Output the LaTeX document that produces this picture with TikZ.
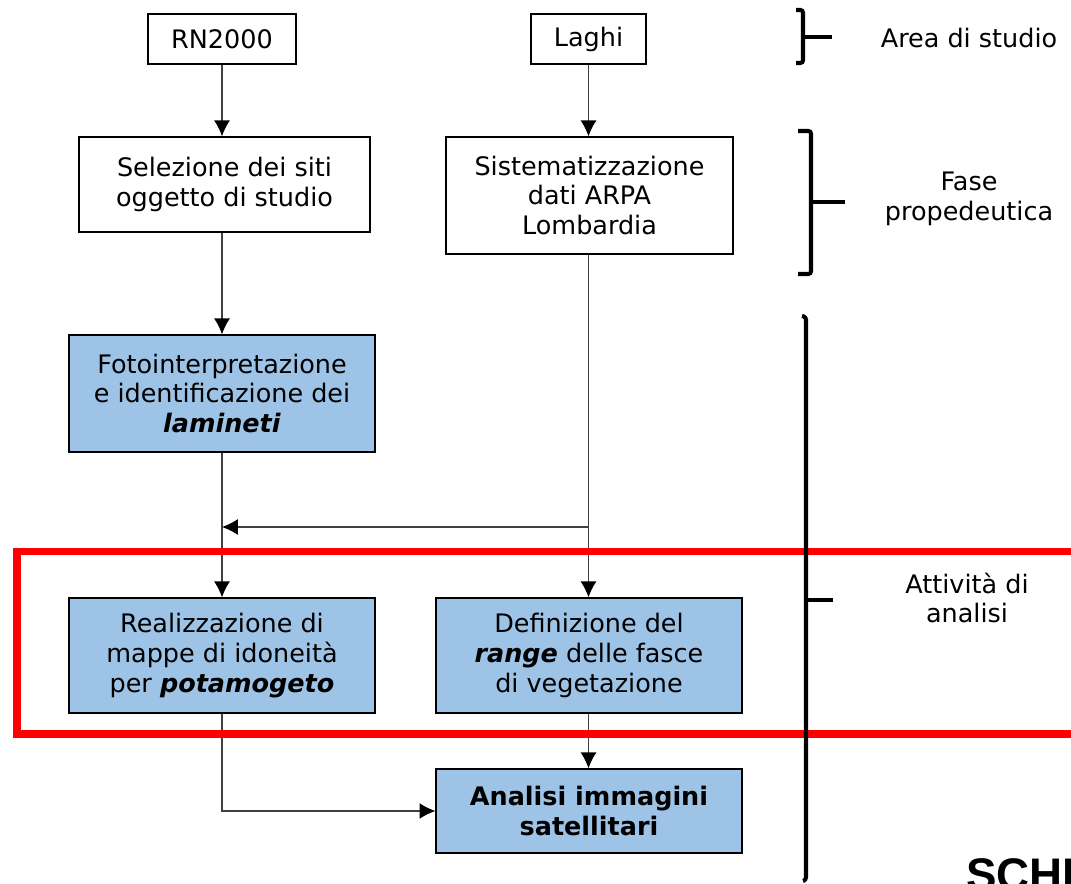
\documentclass[tikz,border=0pt]{standalone}
\usepackage{fontspec}
\setmainfont{DejaVu Sans}
\newfontfamily\headfont{Liberation Sans}
\usepackage{tikz}
\usetikzlibrary{arrows.meta}

\definecolor{boxblue}{RGB}{157,195,230}
\definecolor{linegray}{RGB}{64,64,64}

\begin{document}
\begin{tikzpicture}[x=0.02cm,y=-0.02cm]
			\useasboundingbox (0,0) rectangle (1071,884);
			
			\begin{scope}[every node/.style={draw,line width=0.8pt,align=center,inner sep=0pt,font=\fontsize{14.5}{17}\selectfont}]
				\node [minimum width=2.96cm,minimum height=1cm] (rn) at (222,39) {RN2000};
				\node [minimum width=2.3cm,minimum height=1cm] (laghi) at (588.5,39) {Laghi};
				\node [minimum width=5.82cm,minimum height=1.9cm] (sel) at (224.5,184.5) {Selezione dei siti\\oggetto di studio};
				\node [minimum width=5.74cm,minimum height=2.34cm] (sist) at (589.5,195.5) {Sistematizzazione\\dati ARPA\\Lombardia};
				\node [fill=boxblue,minimum width=6.12cm,minimum height=2.34cm] (foto) at (222,393.5) {Fotointerpretazione\\e identificazione dei\\\textbf{\textit{lamineti}}};
				\node [fill=boxblue,minimum width=6.12cm,minimum height=2.3cm] (real) at (222,655.5) {Realizzazione di\\mappe di idoneità\\per \textbf{\textit{potamogeto}}};
				\node [fill=boxblue,minimum width=6.12cm,minimum height=2.3cm] (def) at (589,655.5) {Definizione del\\\textbf{\textit{range}} delle fasce\\di vegetazione};
				\node [fill=boxblue,minimum width=6.12cm,minimum height=1.68cm,font=\fontsize{14.5}{17}\selectfont\bfseries] (sat) at (589,811) {Analisi immagini\\satellitari};
			\end{scope}
			
			\coordinate (j1) at (588.5,527);
			\coordinate (j2) at (222,527);
			
			\begin{scope}[every edge/.style={draw=linegray,line width=0.6pt},>={Latex[length=9pt,width=9pt,color=black]}]
				\path [->] (rn) edge (sel.north -| rn);
				\path [->] (laghi) edge (sist.north -| laghi);
				\path [->] (sel.south -| rn) edge (foto);
				\path [->] (foto) edge (real);
				\path [->] (sist.south -| j1) edge (def.north -| j1);
				\path [->] (j1) edge (j2);
				\path [->] (def.south -| j1) edge (sat.north -| j1);
				\path [->] (real) edge [to path={|- (\tikztotarget)}] (sat);
			\end{scope}
			
			% riquadro rosso
			\draw [red,line width=4pt] (17,551.5) rectangle (1110,734);
			
			% parentesi
			\begin{scope}[line width=2.3pt,rounded corners=1.5pt]
				\draw (796,10) -- (803,10) -- (803,63) -- (796,63);
				\draw (803,37) -- (832,37);
				\draw (798,131) -- (811,131) -- (811,274) -- (798,274);
				\draw (811,202) -- (845,202);
				\draw (802,316) -- (806,317) -- (806,880) -- (803,881);
				\draw (806,600) -- (833,600);
			\end{scope}
			
			\begin{scope}[every node/.style={align=center,font=\fontsize{14.5}{17}\selectfont}]
				\node (area) at (969,38) {Area di studio};
				\node (fase) at (969,199) {Fase\\propedeutica};
				\node (att) at (967,598) {Attività di\\analisi};
			\end{scope}
			
			\node [anchor=base west,inner sep=0pt,font=\headfont\fontsize{26}{30}\selectfont\bfseries] (schema) at (966,890) {SCHE};
		\end{tikzpicture}
\end{document}
